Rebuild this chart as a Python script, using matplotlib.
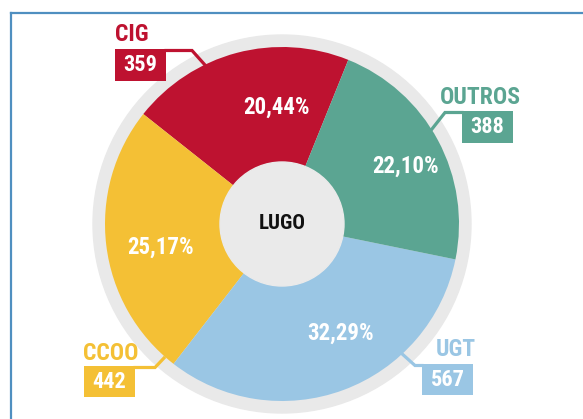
import matplotlib
matplotlib.use("Agg")
import matplotlib.pyplot as plt
from matplotlib.patches import Circle, Rectangle
from matplotlib.lines import Line2D
import numpy as np

# ---- data ----
unions = ["CIG", "CCOO", "UGT", "OUTROS"]
votes = [359, 442, 567, 388]
colors = ["#BE1230", "#F4C035", "#9AC6E4", "#5BA592"]
center_label = "LUGO"

W, H = 583, 419
fig = plt.figure(figsize=(W / 100, H / 100), dpi=100)
ax = fig.add_axes([0, 0, 1, 1])
ax.set_xlim(0, W)
ax.set_ylim(0, H)
ax.set_aspect("equal")
ax.axis("off")

def py(y):
    return H - y

FONT = ["Roboto Condensed", "DejaVu Sans"]
STRETCH = "condensed"

# frame
ax.add_line(Line2D([10.5, W], [py(13), py(13)], color="#4F8FC0", lw=1.6))
ax.add_line(Line2D([10.5, 10.5], [py(13), 0], color="#4F8FC0", lw=1.6))

cx, cy = 282, py(224)
ax.add_patch(Circle((cx, cy), 189, color="#E9E9E9", zorder=1))
wedges, _ = ax.pie(votes, colors=colors, startangle=68, counterclock=True,
                   radius=177, center=(cx, cy), frame=True,
                   wedgeprops=dict(linewidth=0, zorder=2))
ax.set_xlim(0, W)
ax.set_ylim(0, H)
ax.axis("off")
ax.add_patch(Circle((cx, cy), 62, color="#EAEAEA", zorder=3))
ax.text(cx, cy, center_label, ha="center", va="center", fontsize=15,
        fontweight="bold", family=FONT, fontstretch=STRETCH,
        color="#111111", zorder=4)

total = sum(votes)
ang_offset = {"CIG": -12, "CCOO": 4, "UGT": 8, "OUTROS": -3}
rad_frac = {"CIG": 0.66, "CCOO": 0.70, "UGT": 0.70, "OUTROS": 0.77}
for w, name, v in zip(wedges, unions, votes):
    mid = np.deg2rad((w.theta1 + w.theta2) / 2 + ang_offset[name])
    r = 177 * rad_frac[name]
    pct = f"{100 * v / total:.2f}".replace(".", ",") + "%"
    ax.text(cx + r * np.cos(mid), cy + r * np.sin(mid), pct, ha="center",
            va="center", fontsize=16.5, fontweight="bold", family=FONT,
            fontstretch=STRETCH, color="white", zorder=4)

# outer labels: name pos, box (x0,y0,x1,y1), leader pts (pixel coords)
outer = {
    "CIG": dict(name=(132, 35), box=(115, 49, 166, 81),
                lead=[(166, 50.5), (192, 50.5), (205, 65)]),
    "OUTROS": dict(name=(480, 98), box=(462, 111, 513, 143),
                   lead=[(462, 112.5), (445, 112.5), (432, 129)]),
    "CCOO": dict(name=(111, 353), box=(84, 366, 135, 397),
                 lead=[(135, 367.5), (155, 367.5), (164, 358)]),
    "UGT": dict(name=(456, 349), box=(422, 364, 473, 395),
                lead=[(422, 365.5), (415, 365.5), (400, 352)]),
}
for name, v, col in zip(unions, votes, colors):
    o = outer[name]
    xs = [p[0] for p in o["lead"]]
    ys = [py(p[1]) for p in o["lead"]]
    ax.add_line(Line2D(xs, ys, color=col, lw=2.3, zorder=5,
                       solid_joinstyle="miter"))
    x0, y0, x1, y1 = o["box"]
    ax.add_patch(Rectangle((x0, py(y1)), x1 - x0, y1 - y0, color=col,
                           zorder=6, lw=0))
    ax.text((x0 + x1) / 2, py((y0 + y1) / 2), str(v), ha="center",
            va="center", fontsize=16, fontweight="bold", family=FONT,
            fontstretch=STRETCH, color="white", zorder=7)
    ax.text(o["name"][0], py(o["name"][1]), name, ha="center", va="center",
            fontsize=17, fontweight="bold", family=FONT, fontstretch=STRETCH,
            color=col, zorder=7)

fig.savefig("out.png", dpi=100)
